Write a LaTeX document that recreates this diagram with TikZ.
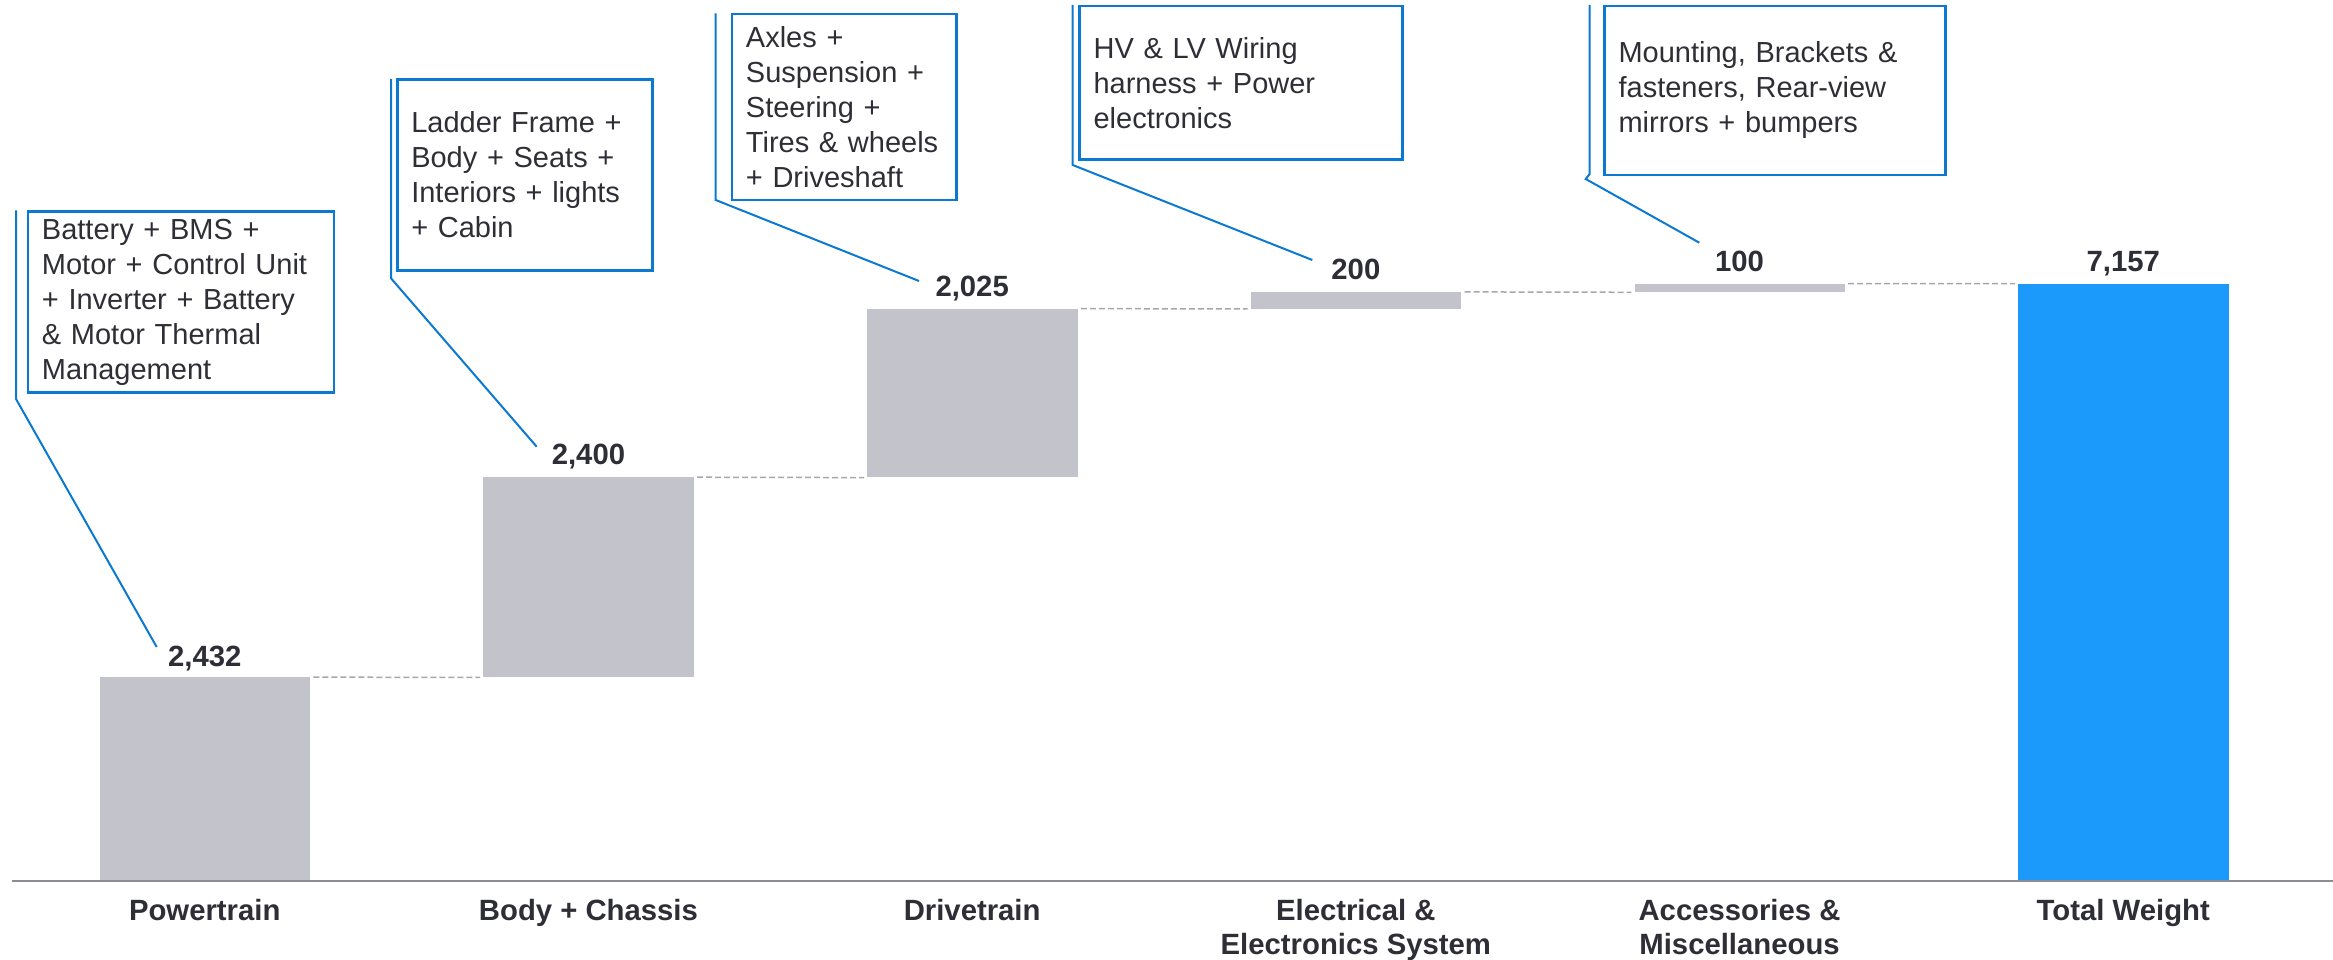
\documentclass[tikz,border=0pt]{standalone}
\usepackage{fontspec}
\setmainfont{Liberation Sans}
\usetikzlibrary{calc}
\definecolor{ink}{HTML}{2E2E36}
\definecolor{barGray}{HTML}{C3C3CB}
\definecolor{barBlue}{HTML}{1B9AFC}
\definecolor{calloutBlue}{HTML}{0B79D0}
\definecolor{linkGray}{HTML}{A6A6AE}
\definecolor{axisGray}{HTML}{8C8C94}
\begin{document}
\begin{tikzpicture}[x=1pt,y=-1pt,
  gbar/.style={fill=barGray, inner sep=0pt, minimum width=210.5pt, anchor=south west},
  tbar/.style={gbar, fill=barBlue},
  val/.style={font=\fontsize{29.3}{35}\selectfont\bfseries, text=ink, inner sep=0pt, anchor=base},
  cat/.style={font=\fontsize{29.3}{34}\selectfont\bfseries, text=ink, inner sep=0pt, anchor=north, align=center},
  note/.style={draw=calloutBlue, line width=2.5pt, anchor=north west, inner xsep=14pt, inner ysep=0pt,
               align=left, text=ink, font=\fontsize{29}{35}\selectfont},
  leader/.style={draw=calloutBlue, line width=2pt},
  link/.style={draw=linkGray, line width=1.5pt, dash pattern=on 6pt off 3pt, shorten <=3pt, shorten >=3pt},
]
\useasboundingbox (0,0) rectangle (2333,960);

% category axis
\draw[axisGray, line width=2pt] (12,880.5) -- (2333,880.5);

% waterfall bars (bottom-left corner, height)
\node[gbar, minimum height=202.5pt] (b1) at (99.5,880) {};
\node[gbar, minimum height=199.9pt] (b2) at (483.2,677.5) {};
\node[gbar, minimum height=168.6pt] (b3) at (866.9,477.6) {};
\node[gbar, minimum height=16.7pt]  (b4) at (1250.6,309) {};
\node[gbar, minimum height=8.3pt]   (b5) at (1634.3,292.3) {};
\node[tbar, minimum height=596pt]   (b6) at (2018,880) {};

% step links between bars
\draw[link] (b1.north east) -- (b2.south west);
\draw[link] (b2.north east) -- (b3.south west);
\draw[link] (b3.north east) -- (b4.south west);
\draw[link] (b4.north east) -- (b5.south west);
\draw[link] (b5.north east) -- (b6.north west);

% values
\node[val] (v1) at (204.75,666) {2,432};
\node[val] (v2) at (588.45,464.6) {2,400};
\node[val] (v3) at (972.15,296) {2,025};
\node[val] (v4) at (1355.85,279.3) {200};
\node[val] (v5) at (1739.55,271) {100};
\node[val] (v6) at (2123.25,271) {7,157};

% categories
\node[cat] (c1) at (204.75,899) {Powertrain};
\node[cat] (c2) at (588.45,899) {Body + Chassis};
\node[cat] (c3) at (972.15,899) {Drivetrain};
\node[cat] (c4) at (1355.85,899) {Electrical \&\\Electronics System};
\node[cat] (c5) at (1739.55,899) {Accessories \&\\Miscellaneous};
\node[cat] (c6) at (2123.25,899) {Total Weight};

% callouts
\node[note, text width=278pt, minimum height=180.6pt] (n1) at (26.7,210.4)
  {Battery + BMS +\\Motor + Control Unit\\+ Inverter + Battery\\\& Motor Thermal\\Management};
\node[note, text width=227pt, minimum height=191pt] (n2) at (396,78.3)
  {Ladder Frame +\\Body + Seats +\\Interiors + lights\\+ Cabin};
\node[note, text width=196.6pt, minimum height=186.3pt] (n3) at (730.7,12.7)
  {Axles +\\Suspension +\\Steering +\\Tires \& wheels\\+ Driveshaft};
\node[note, text width=294.7pt, minimum height=153.6pt] (n4) at (1078.3,4.7)
  {HV \& LV Wiring\\harness + Power\\electronics};
\node[note, text width=313pt, minimum height=169pt] (n5) at (1603.3,4.7)
  {Mounting, Brackets \&\\fasteners, Rear-view\\mirrors + bumpers};

% leader lines from callouts to values
\coordinate (l1a) at (16,210.4);   \coordinate (l1b) at (16,399);    \coordinate (l1c) at (156.7,647);
\coordinate (l2a) at (391,79);     \coordinate (l2b) at (391,278.3); \coordinate (l2c) at (536.7,446.7);
\coordinate (l3a) at (715.7,13.3); \coordinate (l3b) at (715.7,200); \coordinate (l3c) at (919,281);
\coordinate (l4a) at (1072.7,5);   \coordinate (l4b) at (1072.7,165); \coordinate (l4c) at (1312.3,260);
\coordinate (l5a) at (1589.7,5);   \coordinate (l5b) at (1589.7,174); \coordinate (l5k) at (1585.7,179);
\coordinate (l5c) at (1699.3,242.7);
\draw[leader] (l1a) -- (l1b) -- (l1c);
\draw[leader] (l2a) -- (l2b) -- (l2c);
\draw[leader] (l3a) -- (l3b) -- (l3c);
\draw[leader] (l4a) -- (l4b) -- (l4c);
\draw[leader] (l5a) -- (l5b) -- (l5k) -- (l5c);
\end{tikzpicture}
\end{document}
